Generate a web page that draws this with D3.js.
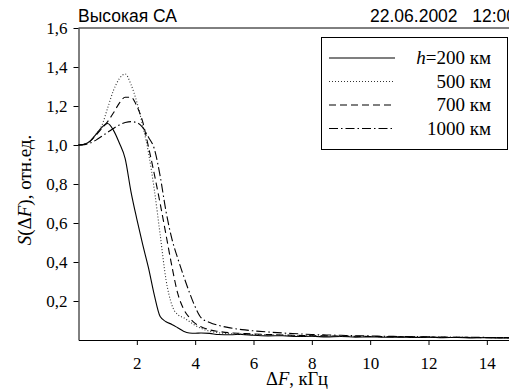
<!DOCTYPE html>
<html>
<head>
<meta charset="utf-8">
<script src="https://cdn.jsdelivr.net/npm/d3@7"></script>
<style>
  body { margin: 0; background: #fff; }
  svg { display: block; }
  .tick text { font-family: "Liberation Serif", serif; font-size: 17px; fill: #000; }
</style>
</head>
<body>
<script>
const width = 509;
const height = 389;

// frequency grid, kHz
const freq = [0, 0.2, 0.4, 0.6, 0.8, 1.0, 1.2, 1.4, 1.6, 1.8, 2.0, 2.2, 2.4, 2.6, 2.8, 3.0, 3.2, 3.4, 3.6, 3.8,
              4.0, 4.2, 4.5, 4.8, 5.2, 5.6, 6.0, 6.5, 7, 7.5, 8, 8.5, 9, 9.5, 10, 10.5, 11, 11.5, 12, 12.5,
              13, 13.5, 14, 14.5, 15];

const h200 = [1.000, 1.004, 1.02, 1.055, 1.09, 1.11, 1.075, 1.01, 0.93, 0.76, 0.62, 0.49, 0.37, 0.23, 0.12,
              0.094, 0.08, 0.063, 0.045, 0.036, 0.035, 0.036, 0.034, 0.028, 0.027, 0.029, 0.024, 0.021, 0.022,
              0.018, 0.019, 0.016, 0.018, 0.015, 0.016, 0.014, 0.015, 0.013, 0.014, 0.012, 0.013, 0.011, 0.012,
              0.010, 0.011];

const h500 = [1.000, 1.004, 1.02, 1.055, 1.10, 1.19, 1.28, 1.34, 1.364, 1.31, 1.22, 1.10, 0.96, 0.77, 0.54,
              0.31, 0.18, 0.13, 0.115, 0.095, 0.075, 0.06, 0.045, 0.037, 0.032, 0.030, 0.028, 0.026, 0.024,
              0.022, 0.021, 0.020, 0.019, 0.018, 0.018, 0.017, 0.016, 0.016, 0.015, 0.014, 0.014, 0.013, 0.013,
              0.012, 0.012];

const h700 = [1.000, 1.004, 1.02, 1.05, 1.085, 1.12, 1.165, 1.215, 1.245, 1.245, 1.20, 1.12, 0.99, 0.85, 0.70,
              0.54, 0.38, 0.24, 0.16, 0.115, 0.085, 0.068, 0.052, 0.044, 0.037, 0.034, 0.031, 0.028, 0.026,
              0.024, 0.022, 0.021, 0.020, 0.019, 0.018, 0.017, 0.016, 0.016, 0.015, 0.014, 0.014, 0.013, 0.012,
              0.012, 0.011];

const h1000 = [1.000, 1.002, 1.01, 1.025, 1.045, 1.065, 1.085, 1.103, 1.115, 1.12, 1.115, 1.09, 1.04, 0.98, 0.84,
               0.66, 0.52, 0.42, 0.33, 0.245, 0.17, 0.115, 0.09, 0.075, 0.062, 0.053, 0.047, 0.041, 0.036,
               0.032, 0.028, 0.026, 0.024, 0.022, 0.021, 0.019, 0.018, 0.017, 0.016, 0.015, 0.014, 0.014, 0.013,
               0.012, 0.012];

const xTicks = [2, 4, 6, 8, 10, 12, 14];
const yTicks = [0.2, 0.4, 0.6, 0.8, 1.0, 1.2, 1.4, 1.6];
const legendLabels = ['200 км', '500 км', '700 км', '1000 км'];

const series = [
  { values: h200, dash: null, color: '#000' },
  { values: h500, dash: '1,2', color: '#333' },
  { values: h700, dash: '7,4', color: '#000' },
  { values: h1000, dash: '9,3,1.5,3', color: '#000' }
];

const svg = d3.select('body')
              .append('svg')
              .attr('width', width)
              .attr('height', height);

const x = d3.scaleLinear().domain([0, 15]).range([78.5, 516]);
const y = d3.scaleLinear().domain([0, 1.6]).range([340, 28]);

const comma = d => d3.format('.1f')(d).replace('.', ',');

// top frame line
svg.append('line')
   .attr('x1', x(0)).attr('x2', width)
   .attr('y1', y(1.6)).attr('y2', y(1.6))
   .attr('stroke', '#000');

svg.append('g')
   .attr('transform', `translate(0,${y(0)})`)
   .call(d3.axisBottom(x).tickValues(xTicks).tickSize(5).tickSizeOuter(0).tickPadding(12).tickFormat(d3.format('d')))
   .call(g => g.selectAll('line, path').attr('stroke', '#000'));

svg.append('g')
   .attr('transform', `translate(${x(0)},0)`)
   .call(d3.axisLeft(y).tickValues(yTicks).tickSize(5).tickSizeOuter(0).tickPadding(6).tickFormat(comma))
   .call(g => g.selectAll('line, path').attr('stroke', '#000'));

const line = d3.line()
               .x((d, i) => x(freq[i]))
               .y(d => y(d))
               .curve(d3.curveMonotoneX);

svg.selectAll('.curve')
   .data(series)
   .join('path')
   .attr('class', 'curve')
   .attr('d', d => line(d.values))
   .attr('fill', 'none')
   .attr('stroke', d => d.color)
   .attr('stroke-width', 1.1)
   .attr('stroke-dasharray', d => d.dash);

// titles
svg.append('text')
   .attr('x', 78).attr('y', 22)
   .style('font-family', '"Liberation Sans", Arial, sans-serif')
   .style('font-size', '17.5px')
   .text('Высокая СА');

svg.append('text')
   .attr('x', 370).attr('y', 22)
   .style('font-family', '"Liberation Sans", Arial, sans-serif')
   .style('font-size', '17.5px')
   .attr('xml:space', 'preserve')
   .text('22.06.2002   12:00');

// legend
const legend = svg.append('g');
legend.append('rect')
      .attr('x', 321.5).attr('y', 37.5)
      .attr('width', 186).attr('height', 112)
      .attr('fill', '#fff')
      .attr('stroke', '#000');

const rows = legend.selectAll('.row')
                   .data(series)
                   .join('g')
                   .attr('transform', (d, i) => `translate(0,${58 + i * 23.5})`);

rows.append('line')
    .attr('x1', 329).attr('x2', 395)
    .attr('stroke', d => d.color)
    .attr('stroke-width', 1.1)
    .attr('stroke-dasharray', d => d.dash);

rows.append('text')
    .attr('x', 491).attr('y', 6)
    .attr('text-anchor', 'end')
    .style('font-family', '"Liberation Serif", serif')
    .style('font-size', '19px')
    .each(function(d, i) {
      const t = d3.select(this);
      if (i === 0) {
        t.append('tspan').style('font-style', 'italic').text('h');
        t.append('tspan').text('=' + legendLabels[i]);
      } else {
        t.text(legendLabels[i]);
      }
    });

// axis labels
const yLab = svg.append('text')
   .attr('transform', 'translate(31,190) rotate(-90)')
   .attr('text-anchor', 'middle')
   .style('font-family', '"Liberation Serif", serif')
   .style('font-size', '19px');
yLab.append('tspan').style('font-style', 'italic').text('S');
yLab.append('tspan').text('(Δ');
yLab.append('tspan').style('font-style', 'italic').text('F');
yLab.append('tspan').text('), отн.ед.');

const xLab = svg.append('text')
   .attr('x', 297).attr('y', 385)
   .attr('text-anchor', 'middle')
   .style('font-family', '"Liberation Serif", serif')
   .style('font-size', '18.5px');
xLab.append('tspan').text('Δ');
xLab.append('tspan').style('font-style', 'italic').text('F');
xLab.append('tspan').text(', кГц');
</script>
</body>
</html>
